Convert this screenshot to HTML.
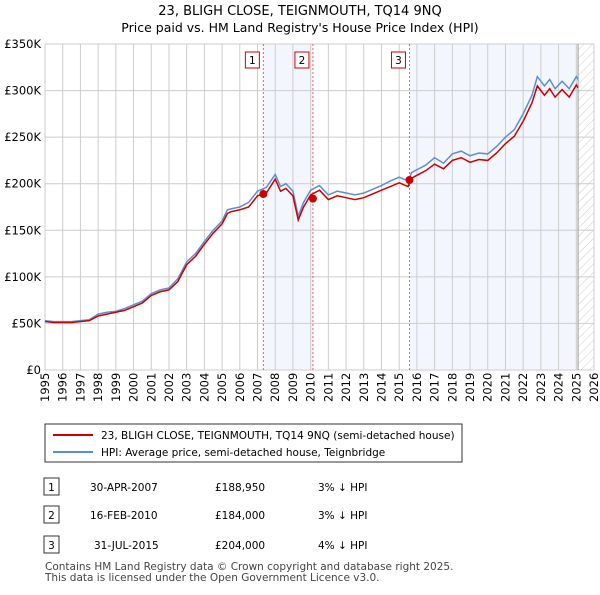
<!DOCTYPE html>
<html><head><meta charset="utf-8"><style>
body{margin:0;width:600px;height:590px;background:#fff;font-family:"Liberation Sans","DejaVu Sans",sans-serif;overflow:hidden}
svg text{font-family:"DejaVu Sans","Liberation Sans",sans-serif}
</style></head><body>
<svg id="chart" width="600" height="590">
<defs><pattern id="hatch" width="6" height="6" patternUnits="userSpaceOnUse" patternTransform="rotate(45)"><line x1="0" y1="0" x2="0" y2="6" stroke="#ccc" stroke-width="1"/></pattern></defs>
<text x="300" y="15" text-anchor="middle" font-size="13">23, BLIGH CLOSE, TEIGNMOUTH, TQ14 9NQ</text>
<text x="300" y="32" text-anchor="middle" font-size="12.5">Price paid vs. HM Land Registry's House Price Index (HPI)</text>
<g id="plot"></g>
<g>
<rect x="45" y="424" width="417" height="38" fill="#fff" stroke="#333"/>
<line x1="53" y1="435" x2="93" y2="435" stroke="#cc0000" stroke-width="2"/>
<text x="101" y="439" font-size="10.5">23, BLIGH CLOSE, TEIGNMOUTH, TQ14 9NQ (semi-detached house)</text>
<line x1="53" y1="452" x2="93" y2="452" stroke="#5b8fd0" stroke-width="2"/>
<text x="101" y="456" font-size="10.5">HPI: Average price, semi-detached house, Teignbridge</text>
</g>
<g font-size="10.5">
<rect x="44" y="478" width="15" height="17" fill="#fff" stroke="#333"/><text x="51.5" y="491" text-anchor="middle">1</text>
<text x="90" y="491">30-APR-2007</text><text x="215" y="491">£188,950</text><text x="318" y="491">3% ↓ HPI</text>
<rect x="44" y="506" width="15" height="17" fill="#fff" stroke="#333"/><text x="51.5" y="519" text-anchor="middle">2</text>
<text x="90" y="519">16-FEB-2010</text><text x="215" y="519">£184,000</text><text x="318" y="519">3% ↓ HPI</text>
<rect x="44" y="536" width="15" height="17" fill="#fff" stroke="#333"/><text x="51.5" y="549" text-anchor="middle">3</text>
<text x="94" y="549">31-JUL-2015</text><text x="215" y="549">£204,000</text><text x="318" y="549">4% ↓ HPI</text>
</g>
<text x="45" y="570" font-size="10.5" fill="#444">Contains HM Land Registry data © Crown copyright and database right 2025.</text>
<text x="45" y="581" font-size="10.5" fill="#444">This data is licensed under the Open Government Licence v3.0.</text>
</svg>
<script>
const years=[1995,1996,1997,1998,1999,2000,2001,2002,2003,2004,2005,2006,2007,2008,2009,2010,2011,2012,2013,2014,2015,2016,2017,2018,2019,2020,2021,2022,2023,2024,2025,2026];
const yTicks=[0,50000,100000,150000,200000,250000,300000,350000];
const yLabels=["£0","£50K","£100K","£150K","£200K","£250K","£300K","£350K"];
const hpiT=[1995,1995.5,1996,1996.5,1997,1997.5,1998,1998.5,1999,1999.5,2000,2000.5,2001,2001.5,2002,2002.5,2003,2003.5,2004,2004.5,2005,2005.3,2005.5,2006,2006.5,2007,2007.5,2008,2008.3,2008.6,2009,2009.3,2009.6,2010,2010.5,2011,2011.5,2012,2012.5,2013,2013.5,2014,2014.5,2015,2015.5,2015.7,2016,2016.5,2017,2017.5,2018,2018.5,2019,2019.5,2020,2020.5,2021,2021.5,2022,2022.5,2022.8,2023.2,2023.5,2023.8,2024.2,2024.6,2025,2025.1];
const hpiV=[53,52,52,52,53,54,60,62,63,66,70,74,82,86,88,98,116,125,138,150,160,172,173,175,180,192,196,210,197,200,192,165,180,193,198,188,192,190,188,190,194,198,203,207,203,212,215,220,228,222,232,235,230,233,232,240,250,258,275,295,315,305,312,302,310,302,315,312];
const ppT=hpiT;
const ppV=[52,51,51,51,52,53,58,60,62,64,68,72,80,84,86,95,113,122,135,147,157,168,170,172,175,187,190,205,192,195,187,161,175,188,193,183,187,185,183,185,189,193,197,201,197,206,209,214,221,216,225,228,223,226,225,233,243,251,267,287,305,295,302,293,301,293,306,303];
const saleT=[2007.33,2010.13,2015.58];
const saleV=[188950,184000,204000];
const saleLbl=["1","2","3"];
const x0=45,x1=594,y0=370,y1=44;
const X=t=>x0+(t-1995)/(2026-1995)*(x1-x0);
const Y=v=>y0-v/350000*(y0-y1);
const g=document.getElementById('plot');
const NS='http://www.w3.org/2000/svg';
function mk(tag,a){const e=document.createElementNS(NS,tag);for(const k in a)e.setAttribute(k,a[k]);g.appendChild(e);return e;}
let e;
e=mk('rect',{x:X(saleT[0]),y:y1,width:X(saleT[1])-X(saleT[0]),height:y0-y1,fill:'#eef3fc',opacity:0.7});


e=mk('rect',{x:X(saleT[2]),y:y1,width:X(2025.1)-X(saleT[2]),height:y0-y1,fill:'#eef3fc',opacity:0.7});


e=mk('rect',{x:X(2025.1),y:y1,width:x1-X(2025.1),height:y0-y1,fill:'url(#hatch)'});


years.forEach(yr=>{e=mk('line',{x1:X(yr),x2:X(yr),y1:y1,y2:y0,stroke:'#ccc','stroke-width':1});


const t=mk('text',{transform:`translate(${X(yr)+4},${y0+32}) rotate(-90)`,'font-size':11.5});t.textContent=yr;

});
yTicks.forEach((v,i)=>{e=mk('line',{x1:x0,x2:x1,y1:Y(v),y2:Y(v),stroke:'#ccc','stroke-width':1});


const t=mk('text',{x:x0-4,y:Y(v)+4,'text-anchor':'end','font-size':11.5});t.textContent=yLabels[i];

});
e=mk('line',{x1:X(2025.1),x2:X(2025.1),y1:y1,y2:y0,stroke:'#999','stroke-width':1});


saleT.forEach((t,i)=>{e=mk('line',{x1:X(t),x2:X(t),y1:y1,y2:y0,stroke:'#f06060','stroke-width':1,'stroke-dasharray':'2,2'});


const r=mk('rect',{x:X(t)-18,y:52,width:14,height:16,fill:'#fff',stroke:'#cc0000'});


const tx=mk('text',{x:X(t)-11,y:64,'text-anchor':'middle','font-size':10.5});tx.textContent=saleLbl[i];

});
e=mk('polyline',{points:hpiT.map((t,i)=>X(t)+','+Y(hpiV[i]*1000)).join(' '),fill:'none',stroke:'#5b8fd0','stroke-width':1.5});


e=mk('polyline',{points:ppT.map((t,i)=>X(t)+','+Y(ppV[i]*1000)).join(' '),fill:'none',stroke:'#cc0000','stroke-width':1.5});


saleT.forEach((t,i)=>{e=mk('circle',{cx:X(t),cy:Y(saleV[i]),r:4,fill:'#cc0000'});

});
</script>
</body></html>
